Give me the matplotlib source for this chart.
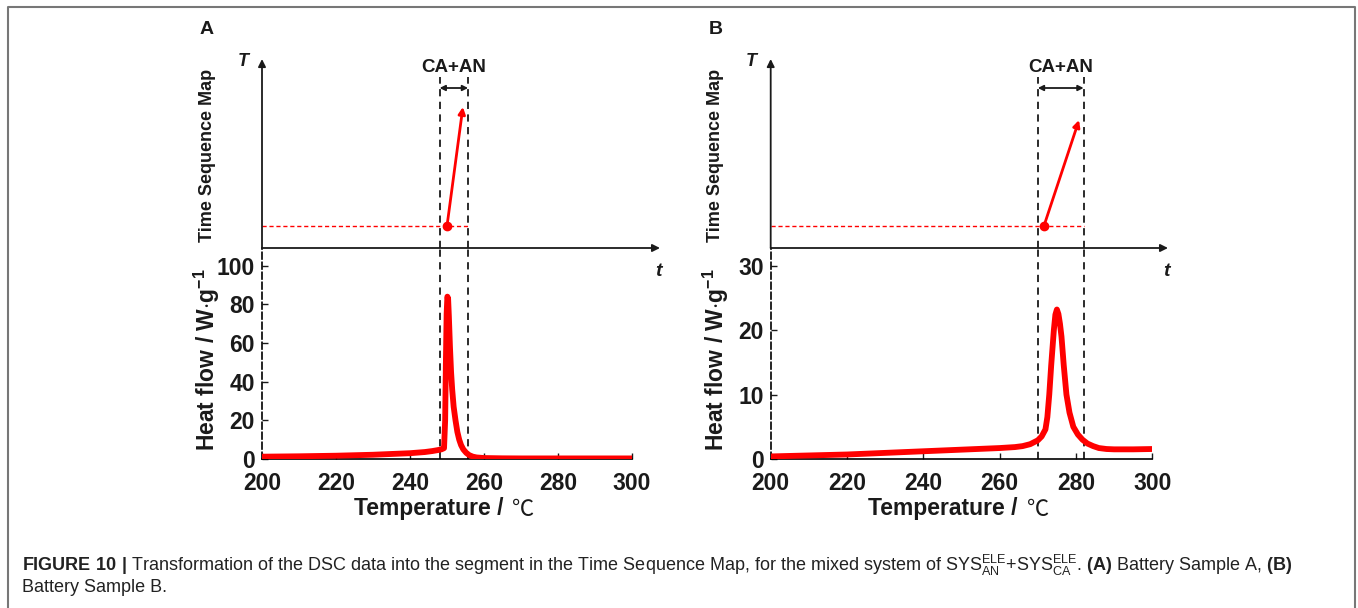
import matplotlib.pyplot as plt
from matplotlib.lines import Line2D

plt.rcParams['font.family'] = ['Liberation Sans', 'Noto Sans CJK SC', 'DejaVu Sans']
plt.rcParams['mathtext.fontset'] = 'custom'
plt.rcParams['mathtext.rm'] = 'Liberation Sans'
plt.rcParams['mathtext.bf'] = 'Liberation Sans:bold'

# DSC curves (temperature in C, heat flow in W/g)
temp_a = [200, 210, 220, 230, 240, 244, 246, 247.5, 248.5, 249.2, 249.5, 249.7,
          249.9, 250.1, 250.3, 250.5, 250.8, 251.1, 251.4, 251.8, 252.3, 252.8,
          253.3, 253.8, 254.4, 255.2, 256, 257, 258, 260, 265, 270, 280, 290, 300]
flow_a = [1.2, 1.4, 1.7, 2.2, 3.0, 3.6, 4.1, 4.6, 5.0, 5.6, 20, 50,
          75, 84, 83, 74, 58, 45, 36, 27, 20, 14,
          10, 7.2, 5.0, 3.2, 2.0, 1.2, 0.8, 0.5, 0.35, 0.3, 0.3, 0.3, 0.3]
temp_b = [200, 210, 220, 230, 240, 250, 260, 264, 266, 268, 270, 271, 272, 272.5,
          273, 273.5, 274.2, 274.6, 275.0, 275.4, 275.8, 276.2, 276.8, 277.5, 278.3,
          279.3, 280.5, 281.7, 283, 284.5, 286, 288, 290, 295, 300]
flow_b = [0.4, 0.55, 0.7, 0.95, 1.2, 1.45, 1.7, 1.85, 2.0, 2.3, 2.9, 3.5, 4.6, 6.5,
          10, 14.5, 20, 22.4, 23.2, 22.5, 21, 19, 14.5, 10, 7.2,
          5.0, 3.8, 3.0, 2.4, 2.0, 1.7, 1.55, 1.5, 1.5, 1.55]

# reaction window (dashed lines) and the segment in the time sequence map
window_a = [248, 255.7]
window_b = [270, 282]
seg_a = [(250.0, 0.114), (254.3, 0.731)]
seg_b = [(271.6, 0.114), (280.8, 0.663)]

xticks = [200, 220, 240, 260, 280, 300]
yticks_a = [0, 20, 40, 60, 80, 100]
yticks_b = [0, 10, 20, 30]

W, H = 1358, 608
fig = plt.figure(figsize=(W / 100, H / 100), dpi=100)
ink = '#1a1a1a'


def rect(l, t, r, b):
    return [l / W, 1 - b / H, (r - l) / W, (b - t) / H]


def draw_panel(x0, x300, arrow_end, letter, temps, flows, yticks, ymax100, window, seg):
    ppu = (x300 - x0) / 100.0
    y0, ytop_val = 459, 265.7
    bot_top = 248
    # bottom: DSC curve
    ax = fig.add_axes(rect(x0, bot_top, x300, y0))
    yscale = (y0 - ytop_val) / ymax100
    ax.set_xlim(200, 300)
    ax.set_ylim(0, (y0 - bot_top) / yscale)
    ax.plot(temps, flows, color='#ff0000', lw=4.2, solid_capstyle='butt', zorder=3)
    for wx in window:
        ax.axvline(wx, color=ink, lw=1.3, dashes=(4, 3), zorder=2)
    ax.set_xticks(xticks)
    ax.set_yticks(yticks)
    ax.tick_params(direction='in', length=4, width=1, labelsize=16.5, colors=ink)
    ax.tick_params(axis='x', pad=9)
    ax.tick_params(axis='y', pad=5)
    for lab in ax.get_xticklabels() + ax.get_yticklabels():
        lab.set_fontweight('bold')
    ax.spines['top'].set_visible(False)
    ax.spines['right'].set_visible(False)
    ax.spines['left'].set_linestyle((0, (4, 2)))
    ax.spines['left'].set_linewidth(1.2)
    ax.spines['bottom'].set_linewidth(1.2)
    ax.patch.set_alpha(0)

    # top: time sequence map
    right_px = arrow_end + 8
    tx = fig.add_axes(rect(x0, 55, right_px, bot_top))
    tx.set_xlim(200, 200 + (right_px - x0) / ppu)
    tx.set_ylim(0, 1)
    tx.axis('off')
    xend = 200 + (arrow_end - x0) / ppu
    tx.annotate('', xy=(xend, 0), xytext=(200, 0),
                arrowprops=dict(arrowstyle='-|>', color=ink, lw=1.3, mutation_scale=11,
                                shrinkA=0, shrinkB=0))
    tx.annotate('', xy=(200, 0.979), xytext=(200, 0),
                arrowprops=dict(arrowstyle='-|>', color=ink, lw=1.3, mutation_scale=11,
                                shrinkA=0, shrinkB=0))
    for wx in window:
        tx.plot([wx, wx], [0, 0.886], color=ink, lw=1.3, dashes=(4, 3))
    tx.annotate('', xy=(window[1], 0.829), xytext=(window[0], 0.829),
                arrowprops=dict(arrowstyle='<|-|>', color=ink, lw=1.3, mutation_scale=8,
                                shrinkA=0, shrinkB=0))
    tx.text(sum(window) / 2, 0.935, 'CA+AN', ha='center', va='center',
            fontsize=13.5, fontweight='bold', color=ink)
    tx.plot([200, window[1]], [seg[0][1], seg[0][1]], color='#ff0000', lw=1, dashes=(3, 2))
    tx.annotate('', xy=seg[1], xytext=seg[0],
                arrowprops=dict(arrowstyle='-|>', color='#ff0000', lw=2, mutation_scale=10,
                                shrinkA=0, shrinkB=0))
    tx.plot([seg[0][0]], [seg[0][1]], 'o', color='#ff0000', ms=6)
    tx.text(200 - 19 / ppu, 0.965, 'T', ha='center', va='center', fontsize=13,
            fontweight='bold', fontstyle='italic', color=ink)
    tx.text(xend - 2 / ppu, -0.124, 't', ha='center', va='center', fontsize=14,
            fontweight='bold', fontstyle='italic', color=ink, clip_on=False)

    lab_x = (x0 - 55) / W
    fig.text(lab_x, 1 - 155 / H, 'Time Sequence Map', rotation=90, ha='center',
             va='center', fontsize=13, fontweight='bold', color=ink)
    fig.text(lab_x, 1 - 360 / H, r'Heat flow / W$\cdot$g$^{\mathbf{-1}}$', rotation=90,
             ha='center', va='center', fontsize=16.5, fontweight='bold', color=ink)
    mid = (x0 + x300) / 2
    fig.text((mid + 56) / W, 1 - 509 / H, 'Temperature /', ha='right',
             va='center', fontsize=16.5, fontweight='bold', color=ink)
    fig.text((mid + 65) / W, 1 - 510 / H, '\u2103', ha='left',
             va='center', fontsize=16, color=ink, family=['Noto Sans CJK SC'])
    fig.text((x0 - 55) / W, 1 - 30 / H, letter, ha='center', va='center',
             fontsize=14, fontweight='bold', color=ink)


draw_panel(262, 632, 660, 'A', temp_a, flow_a, yticks_a, 100, window_a, seg_a)
draw_panel(770.7, 1152.3, 1168, 'B', temp_b, flow_b, yticks_b, 30, window_b, seg_b)

# caption
cap1 = (r'$\bf{FIGURE\ 10\ |}$ Transformation of the DSC data into the segment in the '
        r'Time Sequence Map, for the mixed system of SYS$^{\rm ELE}_{\rm AN}$+SYS$^{\rm ELE}_{\rm CA}$. '
        r'$\bf{(A)}$ Battery Sample A, $\bf{(B)}$')
fig.text(22 / W, 1 - 565 / H, cap1, ha='left', va='center', fontsize=13, color='#222222')
fig.text(22 / W, 1 - 588 / H, 'Battery Sample B.', ha='left', va='center', fontsize=13,
         color='#222222')

# frame around the figure
fig.add_artist(Line2D([8 / W, 8 / W, 1355 / W, 1355 / W], [0, 1 - 7 / H, 1 - 7 / H, 0],
                      transform=fig.transFigure, color='#777777', lw=1.5))

fig.savefig('out.png', dpi=100)
